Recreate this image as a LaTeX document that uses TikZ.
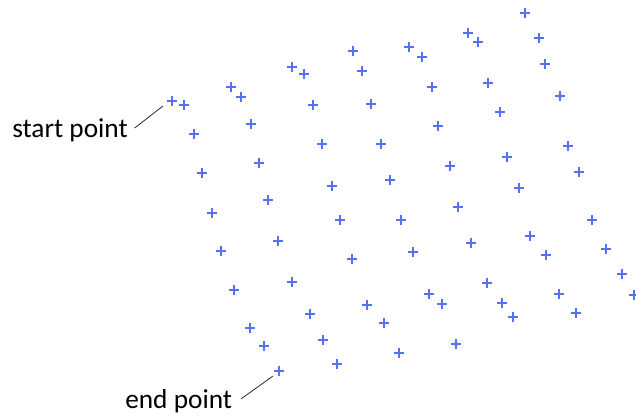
\documentclass[tikz,border=0pt]{standalone}
\usepackage{fontspec}
\setmainfont{Carlito}
\usetikzlibrary{positioning}

\definecolor{markblue}{RGB}{84,112,246}
\definecolor{leadgray}{RGB}{40,40,40}

\begin{document}
\begin{tikzpicture}[
  x=0.75pt, y=-0.75pt,
  font=\fontsize{20.5pt}{24pt}\selectfont,
  crossmark/.style={draw=markblue, line width=1.1pt},
  tagtext/.style={inner sep=0pt, anchor=base west},
  leader/.style={draw=leadgray, line width=0.6pt}
]
\useasboundingbox (0,0) rectangle (636,417);

% sample points of the grid, row by row along each column
\foreach \px/\py [count=\i] in {
  172/101, 184/105, 194/134, 202/173, 212/213, 221/251, 234/290, 250/328, 264/346, 279/371,
  231/87, 241/97, 251/124, 259/163, 268/200, 278/241, 292/282, 310/314, 323/340, 337/364,
  292/67, 304/74, 313/105, 322/144, 332/186, 340/220, 352/259, 367/305, 384/323, 399/353,
  353/51, 362/71, 371/104, 381/144, 390/180, 401/220, 413/252, 429/294, 442/304, 456/344,
  409/47, 422/57, 432/87, 438/126, 450/166, 458/207, 471/243, 487/283, 502/303, 513/317,
  468/33, 478/42, 488/83, 500/112, 507/157, 519/188, 530/236, 546/255, 559/294, 576/313,
  525/13, 539/38, 545/64, 560/96, 568/146, 579/172, 592/220, 606/249, 622/274, 634/295} {
  \coordinate (p\i) at (\px,\py);
  \draw[crossmark] ([xshift=-3.5pt]p\i) -- ([xshift=3.5pt]p\i)
                   ([yshift=-3.5pt]p\i) -- ([yshift=3.5pt]p\i);
}

\node[tagtext] (start) at (12,138) {start point};
\node[tagtext] (end) at (125,408) {end point};

\coordinate (starttip) at (163,106);
\coordinate (endtip) at (273,376);

\draw[leader] ([xshift=5pt,yshift=7.5pt]start.base east) -- (starttip);
\draw[leader] ([xshift=6.5pt,yshift=6.8pt]end.base east) -- (endtip);

\end{tikzpicture}
\end{document}
